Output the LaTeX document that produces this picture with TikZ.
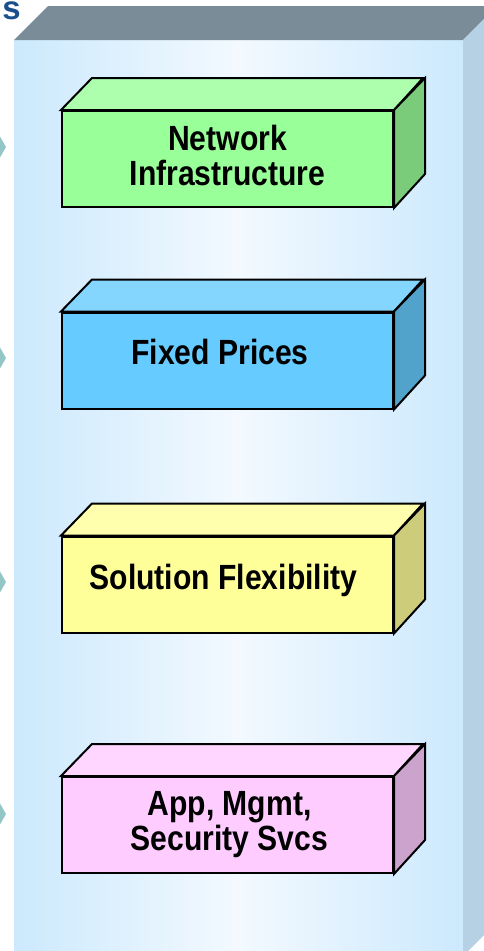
\documentclass[tikz,border=0pt]{standalone}
\usepackage{fontspec}
\setmainfont{Liberation Sans}
\newfontfamily\boxfont[FakeStretch=0.86]{Liberation Sans Bold}
\definecolor{gfront}{RGB}{153,255,153}
\definecolor{gtop}{RGB}{173,255,173}
\definecolor{gside}{RGB}{122,204,122}
\definecolor{bfront}{RGB}{102,204,255}
\definecolor{btop}{RGB}{133,214,255}
\definecolor{bside}{RGB}{82,163,204}
\definecolor{yfront}{RGB}{255,255,153}
\definecolor{ytop}{RGB}{255,255,173}
\definecolor{yside}{RGB}{204,204,122}
\definecolor{pfront}{RGB}{255,204,255}
\definecolor{ptop}{RGB}{255,214,255}
\definecolor{pside}{RGB}{204,163,204}
\definecolor{panelc}{RGB}{204,233,253}
\definecolor{panelmid}{RGB}{243,249,255}
\definecolor{paneltop}{RGB}{122,140,152}
\definecolor{panelside}{RGB}{181,209,227}
\definecolor{chevc}{RGB}{148,198,200}
\definecolor{titlec}{RGB}{25,80,140}
\begin{document}
\begin{tikzpicture}[x=1pt,y=-1pt,
  frontbox/.style={draw=black, line width=2pt, minimum width=331pt, minimum height=96pt, inner sep=0pt},
  facebox/.style={draw=black, line width=2pt, line join=miter},
  boxtext/.style={font=\boxfont\fontsize{35pt}{35pt}\selectfont, align=center, inner sep=0pt, text=black},
  chev/.style={fill=chevc}]
\useasboundingbox (0,0) rectangle (483,951);
\fill[white] (0,0) rectangle (483,951);
% back panel
\shade[left color=panelc, right color=panelc, middle color=panelmid] (14,40) rectangle (463,956);
\fill[paneltop] (14,40) -- (48,6) -- (497,6) -- (463,40) -- cycle;
\fill[panelside] (463,40) -- (497,6) -- (497,922) -- (463,956) -- cycle;
% title fragment
\node[font=\bfseries\fontsize{33pt}{33pt}\selectfont, text=titlec, anchor=base east, inner sep=0pt] (ttl) at (21,19) {s};
% chevron tips
\foreach \t in {147,358,582,814} {
  \fill[chev] (6,\t) -- (-10,\t-28) -- (-30,\t-28) -- (-30,\t+28) -- (-10,\t+28) -- cycle;
}
% box 1
\node[frontbox, fill=gfront] (net) at (227.5,159) {};
\filldraw[facebox, fill=gtop] (net.north west) -- ++(31,-32) -- ++(331,0) -- (net.north east) -- cycle;
\filldraw[facebox, fill=gside] (net.north east) -- ++(31,-32) -- ++(0,96) -- (net.south east) -- cycle;
\node[boxtext] (nett) at (227.5,155) {Network\\Infrastructure};
% box 2
\node[frontbox, fill=bfront] (fix) at (227.5,360.5) {};
\filldraw[facebox, fill=btop] (fix.north west) -- ++(31,-32) -- ++(331,0) -- (fix.north east) -- cycle;
\filldraw[facebox, fill=bside] (fix.north east) -- ++(31,-32) -- ++(0,96) -- (fix.south east) -- cycle;
\node[boxtext, anchor=base] (fixt) at (220,364) {Fixed Prices};
% box 3
\node[frontbox, fill=yfront] (sol) at (227.5,584.5) {};
\filldraw[facebox, fill=ytop] (sol.north west) -- ++(31,-32) -- ++(331,0) -- (sol.north east) -- cycle;
\filldraw[facebox, fill=yside] (sol.north east) -- ++(31,-32) -- ++(0,96) -- (sol.south east) -- cycle;
\node[boxtext, anchor=base] (solt) at (223.5,589) {Solution Flexibility};
% box 4
\node[frontbox, fill=pfront] (app) at (227.5,825) {};
\filldraw[facebox, fill=ptop] (app.north west) -- ++(31,-32) -- ++(331,0) -- (app.north east) -- cycle;
\filldraw[facebox, fill=pside] (app.north east) -- ++(31,-32) -- ++(0,96) -- (app.south east) -- cycle;
\node[boxtext] (appt) at (229.5,825) {App, Mgmt,\\Security Svcs};
\end{tikzpicture}
\end{document}
